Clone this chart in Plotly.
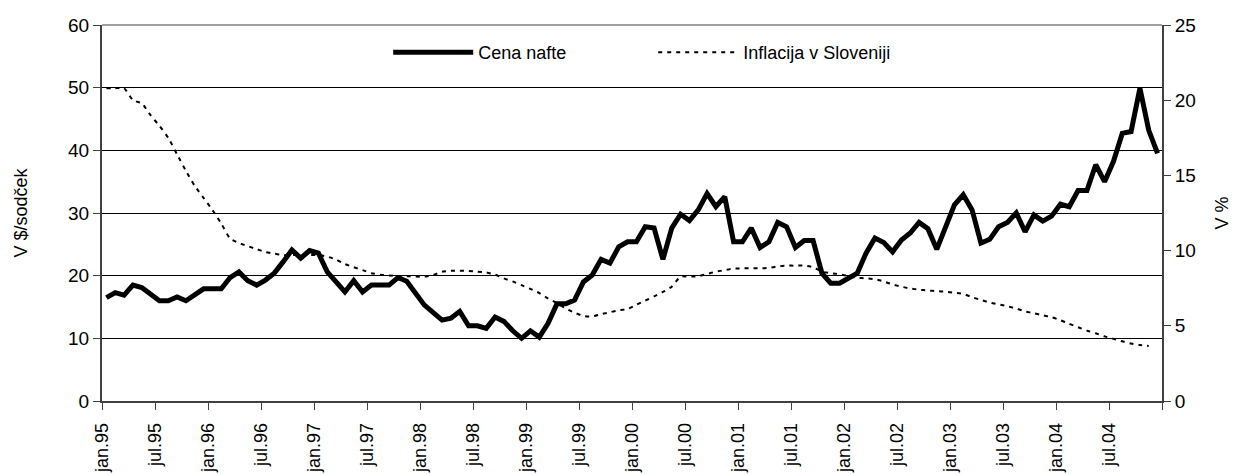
import plotly.graph_objects as go

# Monthly data, jan.95 .. dec.04 (120 months)
oil_price = [
    16.5, 17.3, 16.9, 18.5, 18.1, 17.0, 16.0, 16.0, 16.6, 16.0, 17.0, 17.9,
    17.9, 17.9, 19.7, 20.6, 19.2, 18.5, 19.3, 20.4, 22.2, 24.1, 22.8, 24.0,
    23.6, 20.6, 19.0, 17.4, 19.2, 17.4, 18.5, 18.5, 18.5, 19.7, 19.1, 17.2,
    15.3, 14.1, 12.9, 13.2, 14.3, 12.0, 12.0, 11.6, 13.4, 12.7, 11.2, 10.0,
    11.2, 10.2, 12.4, 15.5, 15.5, 16.1, 19.0, 20.1, 22.6, 22.0, 24.6, 25.4,
    25.4, 27.8, 27.6, 22.6, 27.6, 29.8, 28.8, 30.5, 33.1, 31.0, 32.6, 25.4,
    25.4, 27.6, 24.5, 25.4, 28.5, 27.8, 24.5, 25.6, 25.6, 20.4, 18.8, 18.8,
    19.5, 20.4, 23.6, 26.0, 25.3, 23.8, 25.7, 26.8, 28.5, 27.5, 24.2, 27.8,
    31.3, 32.9, 30.5, 25.2, 25.8, 27.8, 28.5, 30.0, 27.0, 29.7, 28.7, 29.5,
    31.4, 31.0, 33.6, 33.6, 37.7, 35.0, 38.2, 42.7, 43.0, 49.9, 43.2, 39.5,
]

inflation = [
    20.8, 20.8, 20.8, 20.0, 19.8, 19.0, 18.3, 17.5, 16.4, 15.3, 14.3, 13.5,
    12.7, 11.8, 10.8, 10.5, 10.3, 10.1, 9.9, 9.8, 9.7, 9.7, 9.7, 9.7,
    9.7, 9.6, 9.4, 9.1, 8.9, 8.7, 8.5, 8.4, 8.35, 8.3, 8.3, 8.27,
    8.27, 8.38, 8.6, 8.66, 8.66, 8.64, 8.6, 8.55, 8.4, 8.15, 7.95, 7.7,
    7.45, 7.18, 6.82, 6.5, 6.15, 5.87, 5.65, 5.62, 5.77, 5.9, 6.03, 6.12,
    6.4, 6.68, 6.95, 7.25, 7.6, 8.27, 8.27, 8.3, 8.45, 8.6, 8.7, 8.8,
    8.82, 8.82, 8.82, 8.85, 8.95, 9.0, 9.0, 9.0, 8.9, 8.6, 8.5, 8.43,
    8.3, 8.2, 8.15, 8.1, 7.95, 7.75, 7.6, 7.48, 7.4, 7.35, 7.3, 7.27,
    7.2, 7.12, 6.9, 6.72, 6.54, 6.42, 6.3, 6.15, 5.96, 5.83, 5.7, 5.57,
    5.37, 5.13, 4.9, 4.68, 4.5, 4.3, 4.13, 3.97, 3.82, 3.72, 3.66, None,
]

tick_labels = [
    "jan.95", "jul.95", "jan.96", "jul.96", "jan.97", "jul.97", "jan.98",
    "jul.98", "jan.99", "jul.99", "jan.00", "jul.00", "jan.01", "jul.01",
    "jan.02", "jul.02", "jan.03", "jul.03", "jan.04", "jul.04", "",
]

series_names = ["Cena nafte", "Inflacija v Sloveniji"]
left_title = "V $/sodček"
right_title = "V %"

n = len(oil_price)
x = list(range(n))
tickvals = [-0.5 + 6 * i for i in range(len(tick_labels))]

FONT = "Arial, Liberation Sans, sans-serif"
AXC = "#404040"

fig = go.Figure()
fig.add_trace(go.Scatter(
    x=x, y=oil_price, name=series_names[0], mode="lines",
    line=dict(color="black", width=5), yaxis="y",
))
fig.add_trace(go.Scatter(
    x=x, y=inflation, name=series_names[1], mode="lines",
    line=dict(color="black", width=2, dash="4px,5px", shape="spline", smoothing=0.5),
    yaxis="y2",
))

# page has an 8px body margin, so the figure is sized/offset to compensate
fig.update_layout(
    width=1231, height=467,
    margin=dict(l=94, r=77, t=17, b=74),
    paper_bgcolor="white", plot_bgcolor="white",
    font=dict(family=FONT, size=18, color="black"),
    showlegend=True,
    legend=dict(
        orientation="h", x=0.27, y=0.976, xanchor="left", yanchor="top",
        bgcolor="rgba(0,0,0,0)", itemwidth=80, entrywidth=170, entrywidthmode="pixels",
        font=dict(family=FONT, size=18, color="black"),
        tracegroupgap=0,
    ),
    xaxis=dict(
        range=[-0.5, n - 0.5], tickmode="array", tickvals=tickvals, ticktext=tick_labels,
        tickangle=-90, ticks="outside", ticklen=7, tickcolor=AXC, tickwidth=1,
        showline=True, linecolor=AXC, linewidth=1.5, showgrid=False, zeroline=False,
        tickfont=dict(family=FONT, size=18, color="black"), automargin=False,
        ticklabelstandoff=6,
    ),
    yaxis=dict(
        range=[0, 60], tickvals=[0, 10, 20, 30, 40, 50, 60], ticks="outside", ticklen=7,
        tickcolor=AXC, showline=True, linecolor=AXC, linewidth=2,
        showgrid=True, gridcolor="black", gridwidth=1, zeroline=False,
        title=dict(text=left_title, standoff=36, font=dict(family=FONT, size=18)),
        tickfont=dict(family=FONT, size=19, color="black"), automargin=False,
    ),
    yaxis2=dict(
        range=[0, 25], tickvals=[0, 5, 10, 15, 20, 25], overlaying="y", side="right",
        ticks="outside", ticklen=7, tickcolor=AXC, showline=True, linecolor=AXC, linewidth=2,
        showgrid=False, zeroline=False,
        title=dict(text=right_title, standoff=20, font=dict(family=FONT, size=18)),
        tickfont=dict(family=FONT, size=19, color="black"), automargin=False,
    ),
    shapes=[dict(type="line", xref="paper", yref="paper", x0=0, x1=1, y0=1, y1=1,
                 line=dict(color="#a0a0a0", width=2), layer="above")],
)

fig.write_html("out.html")
